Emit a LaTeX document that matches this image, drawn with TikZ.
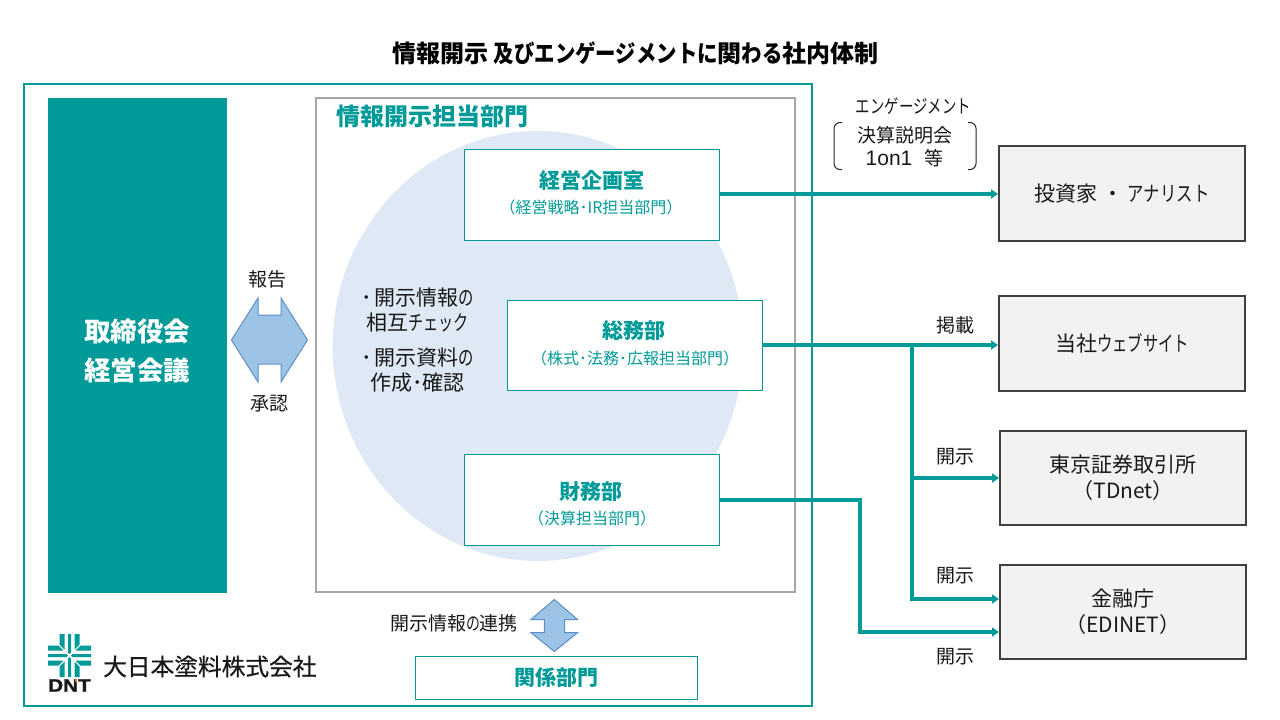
\documentclass[tikz,border=0pt]{standalone}
\usepackage{fontspec}
\usepackage{graphicx}
\setmainfont{Noto Sans CJK JP}
\newfontfamily\latinf{Liberation Sans}
\newfontfamily\logof[FakeBold=0.6]{Noto Sans CJK JP}
\newfontfamily\dntf[FakeBold=1.2]{Liberation Sans}
\usetikzlibrary{arrows.meta}
\definecolor{teal1}{HTML}{009B99}
\definecolor{blueA}{HTML}{9DC3E6}
\definecolor{blueE}{HTML}{5B8FC9}
\definecolor{circ}{HTML}{DEE9F5}
\definecolor{greyB}{HTML}{A6A6A6}
\definecolor{darkB}{HTML}{404040}
\definecolor{boxF}{HTML}{F2F2F2}
\definecolor{dntor}{HTML}{E8762C}
\newcommand{\fs}[1]{\fontsize{#1pt}{#1pt}\selectfont}
\newcommand{\fsb}[2]{\fontsize{#1pt}{#2pt}\selectfont}
\newcommand{\nk}[2][.73]{\scalebox{#1}[1]{#2}}
\tikzset{
 x=1pt,y=-1pt,
 lab/.style={align=center,inner sep=0pt,text=black!90,font=\fs{19}},
 tealbox/.style={draw=teal1,fill=white,line width=1pt,inner sep=0pt,align=center},
 tealhead/.style={inner sep=0pt,text=teal1,font=\fs{21}\bfseries},
 tealsub/.style={inner sep=0pt,text=teal1,font=\fs{16}},
 extbox/.style={draw=darkB,fill=boxF,line width=2pt,inner sep=0pt,align=center,font=\fsb{21}{26},text=black!90},
 conn/.style={draw=teal1,line width=3.4pt,-{Triangle[length=7pt,width=9pt]}},
 dblarrow/.style={draw=blueE,fill=blueA,line width=1pt},
}
\begin{document}
\begin{tikzpicture}
\useasboundingbox (0,0) rectangle (1280,720);
\fill[white] (0,0) rectangle (1280,720);
\node[inner sep=0pt,font=\fs{24}\bfseries,text=black] (title) at (635.5,53) {情報開示 \nk[.85]{及び}\nk[.85]{エンゲージメント}\nk[.85]{に}関\nk[.85]{わる}社内体制};
% outer frame
\node[draw=teal1,line width=2pt,minimum width=788pt,minimum height=622pt,inner sep=0pt] (outer) at (418,395) {};
% board
\node[fill=teal1,minimum width=179pt,minimum height=495pt,inner sep=0pt] (board) at (137.5,345.5) {};
\node[inner sep=0pt,align=center,text=white,font=\fsb{26.5}{39}\bfseries] (boardt) at (137,350.5) {取締役会\\経営会議};
% dept frame
\node[draw=greyB,line width=2pt,fill=white,minimum width=479pt,minimum height=494pt,inner sep=0pt] (dept) at (555.5,345) {};
\node[circle,fill=circ,minimum size=430pt,inner sep=0pt,xscale=0.955] (bubble) at (538,346) {};
\node[inner sep=0pt,text=teal1,font=\fs{24}\bfseries,anchor=west] (depttitle) at (336,116) {情報開示担当部門};
% dept boxes
\node[tealbox,minimum width=255pt,minimum height=91pt] (keiei) at (592,195) {};
\node[tealhead] (keieit) at (592,180) {経営企画室};
\node[tealsub] (keieis) at (591,207) {（経営戦略･IR担当部門）};
\node[tealbox,minimum width=255pt,minimum height=90pt] (somu) at (635,345) {};
\node[tealhead] (somut) at (634,331) {総務部};
\node[tealsub] (somus) at (635,358) {（株式･法務･広報担当部門）};
\node[tealbox,minimum width=255pt,minimum height=91pt] (zaimu) at (592,499.5) {};
\node[tealhead] (zaimut) at (591,491.5) {財務部};
\node[tealsub] (zaimus) at (592,518) {（決算担当部門）};
\node[lab,font=\fsb{21}{25}] (m1) at (417.5,310) {･\hspace{2pt}開示情報\nk{の}\\相互\nk[.72]{チェック}};
\node[lab,font=\fsb{21}{25}] (m2) at (417.5,370) {･\hspace{2pt}開示資料\nk{の}\\作成･確認};
% hexagon arrow
\draw[dblarrow] (231.5,340) -- (258,298) -- (258,315) -- (281,315) -- (281,298) -- (307.5,340) -- (281,382) -- (281,364) -- (258,364) -- (258,382) -- cycle;
\node[lab] (hokoku) at (267.5,279) {報告};
\node[lab] (shonin) at (269,404) {承認};
% vertical arrow
\draw[dblarrow] (554.3,599.5) -- (577.5,619.5) -- (564.5,619.5) -- (564.5,632.7) -- (577.5,632.7) -- (554.3,651.5) -- (531,632.7) -- (544.3,632.7) -- (544.3,619.5) -- (531,619.5) -- cycle;
\node[lab] (renkei) at (454,623) {開示情報\nk{の}連携};
\node[tealbox,minimum width=282pt,minimum height=43pt,font=\fs{21}\bfseries,text=teal1] (kankei) at (556,678) {関係部門};
% external boxes
\node[extbox,minimum width=246pt,minimum height=95pt] (inv) at (1122,193.5) {\raisebox{-1pt}{投資家 ・ \nk[.78]{アナリスト}}};
\node[extbox,minimum width=246pt,minimum height=95pt] (web) at (1122,343.5) {\raisebox{-1pt}{当社\nk{ウェブサイト}}};
\node[extbox,minimum width=246pt,minimum height=94pt] (tse) at (1123,478) {東京証券取引所\\（TDnet）};
\node[extbox,minimum width=246pt,minimum height=94pt] (fsa) at (1123,612) {金融庁\\（EDINET）};
% engagement
\node[lab] (eng) at (913.5,106) {\nk[.76]{エンゲージメント}};
\node[lab,font=\fsb{19}{23}] (kessan) at (904.5,146.5) {決算説明会\\{\latinf\fsb{21}{23}1on1}\hspace{12pt}等};
\draw[black!85,line width=1pt,rounded corners=6pt] (842,122.5) -- (834,122.5) -- (834,169.5) -- (842,169.5);
\draw[black!85,line width=1pt,rounded corners=6pt] (968,122.5) -- (976,122.5) -- (976,169.5) -- (968,169.5);
% connectors
\coordinate (jsomu) at (912,345);
\coordinate (jtse) at (912,478);
\coordinate (jfsa) at (912,599);
\coordinate (zb) at (860,500);
\coordinate (zc) at (860,632);
\draw[conn] (keiei.east |- 0,194) -- (inv.west |- 0,194);
\draw[conn] (somu.east |- 0,345) -- (web.west |- 0,345);
\draw[conn] (jsomu) -- (jfsa) -- (fsa.west |- jfsa);
\draw[conn] (jtse) -- (tse.west |- jtse);
\draw[conn] (zaimu.east |- zb) -- (zb) -- (zc) -- (fsa.west |- zc);
\node[lab] (keisai) at (955.5,325) {掲載};
\node[lab] (k1) at (955.5,457) {開示};
\node[lab] (k2) at (955.5,576) {開示};
\node[lab] (k3) at (955.5,657) {開示};
% logo emblem
\begin{scope}[shift={(69.5,655.5)}]
 \foreach \r in {0,90,180,270}{
  \begin{scope}[rotate=\r]
   \fill[teal1] (-1.5,-21.5) -- (-1.5,-3) -- (0,-1.5) -- (1.5,-3) -- (1.5,-21.5) -- cycle;
   \fill[teal1] (5,-21.5) -- (10,-21.5) -- (10,-11) -- (5,-6) -- cycle;
   \fill[teal1] (-5,-21.5) -- (-10,-21.5) -- (-10,-11) -- (-5,-6) -- cycle;
  \end{scope}}
\end{scope}
\node[inner sep=0pt,font=\dntf\fs{18}\bfseries,text=black!90,xscale=1.15] (dnt) at (69.5,685.5) {DNT};
\fill[dntor] (74.5,679) rectangle (77,681.5);
\node[inner sep=0pt,font=\logof\fs{23.7},text=black!90,anchor=west] (logo) at (103,666.5) {大日本塗料株式会社};
\end{tikzpicture}
\end{document}
